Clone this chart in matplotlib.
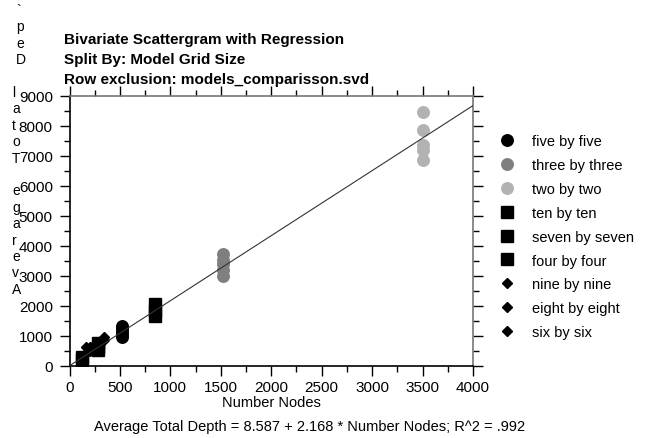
import matplotlib
matplotlib.use("Agg")
import matplotlib.pyplot as plt
from matplotlib.lines import Line2D
from matplotlib.ticker import MultipleLocator

plt.rcParams['font.family'] = ['Liberation Sans', 'DejaVu Sans']

# ---- data ----
groups = ["five by five", "three by three", "two by two",
          "ten by ten", "seven by seven", "four by four",
          "nine by nine", "eight by eight", "six by six"]
nodes = {
    "five by five": [520] * 5,
    "three by three": [1520] * 5,
    "two by two": [3500] * 5,
    "ten by ten": [121] * 2,
    "seven by seven": [280] * 3,
    "four by four": [844] * 3,
    "nine by nine": [160] * 2,
    "eight by eight": [200] * 2,
    "six by six": [340] * 2,
}
depth = {
    "five by five": [980, 1080, 1180, 1270, 1350],
    "three by three": [3000, 3200, 3400, 3550, 3750],
    "two by two": [6850, 7200, 7350, 7850, 8450],
    "ten by ten": [200, 300],
    "seven by seven": [540, 650, 760],
    "four by four": [1680, 1850, 2080],
    "nine by nine": [450, 630],
    "eight by eight": [500, 650],
    "six by six": [880, 980],
}
intercept = 8.587
slope = 2.168
r2 = ".992"
y_title_chars = ["`", "p", "e", "D", " ", "l", "a", "t", "o", "T", " ",
                 "e", "g", "a", "r", "e", "v", "A"]

styles = {
    "five by five": dict(marker="o", color="#000000", ms=8.3),
    "three by three": dict(marker="o", color="#7f7f7f", ms=8.3),
    "two by two": dict(marker="o", color="#b2b2b2", ms=8.3),
    "ten by ten": dict(marker="s", color="#000000", ms=8.6),
    "seven by seven": dict(marker="s", color="#000000", ms=8.6),
    "four by four": dict(marker="s", color="#000000", ms=8.6),
    "nine by nine": dict(marker="D", color="#000000", ms=4.6),
    "eight by eight": dict(marker="D", color="#000000", ms=4.6),
    "six by six": dict(marker="D", color="#000000", ms=4.6),
}

W, H = 647, 439
fig = plt.figure(figsize=(W / 100, H / 100), dpi=100)
ax = fig.add_axes([69.5 / W, 1 - 367 / H, (473 - 69.5) / W, (367 - 97) / H])

# regression line
xl = [0, 4000]
ax.plot(xl, [intercept + slope * v for v in xl], color="#333333", lw=0.8, zorder=3)

handles = []
for g in groups:
    st = styles[g]
    ax.plot(nodes[g], depth[g], linestyle="none", marker=st["marker"],
            markersize=st["ms"], markerfacecolor=st["color"],
            markeredgecolor=st["color"], zorder=2)
    handles.append(Line2D([], [], linestyle="none", marker=st["marker"],
                          markersize=st["ms"], markerfacecolor=st["color"],
                          markeredgecolor=st["color"], label=g))

ax.set_xlim(0, 4000)
ax.set_ylim(0, 9000)
ax.xaxis.set_major_locator(MultipleLocator(500))
ax.xaxis.set_minor_locator(MultipleLocator(250))
ax.yaxis.set_major_locator(MultipleLocator(1000))
ax.yaxis.set_minor_locator(MultipleLocator(500))
ax.tick_params(axis="both", which="both", direction="out", labelsize=11,
               top=True, right=True, colors="black")
ax.tick_params(which="major", length=7, width=1)
ax.tick_params(which="minor", length=4, width=1)
ax.tick_params(axis="y", pad=5)
ax.tick_params(axis="x", pad=3)
ax.spines["left"].set_color("black")
ax.spines["bottom"].set_color("black")
ax.spines["top"].set_color("#777777")
ax.spines["right"].set_color("#777777")
for s in ax.spines.values():
    s.set_linewidth(1.2)

ax.set_xlabel("Number Nodes", fontsize=10.5, labelpad=1)

# titles
for txt, yp in [("Bivariate Scattergram with Regression", 40),
                ("Split By: Model Grid Size", 60),
                ("Row exclusion: models_comparisson.svd", 80)]:
    fig.text(64 / W, 1 - yp / H, txt, fontsize=11, fontweight="bold",
             ha="left", va="center")

# footnote
fig.text(94 / W, 1 - 427 / H,
         "Average Total Depth = %.3f + %.3f * Number Nodes; R^2 = %s" % (intercept, slope, r2),
         fontsize=10.5, ha="left", va="center")

# stacked (upright, reversed) y-axis title characters
step = 16.4
for i, c in enumerate(y_title_chars):
    if c == " ":
        continue
    xx = 16 if i < 4 else 12
    fig.text(xx / W, 1 - (11 + i * step) / H, c, fontsize=10, ha="left", va="center")

# legend
fig.legend(handles=handles, loc="upper left", bbox_to_anchor=(498 / W, 1 - 135 / H),
           frameon=False, fontsize=10.5, labelspacing=0.68, handlelength=1.2,
           handletextpad=1.1, borderaxespad=0, borderpad=0)

fig.savefig("out.png", dpi=100)
